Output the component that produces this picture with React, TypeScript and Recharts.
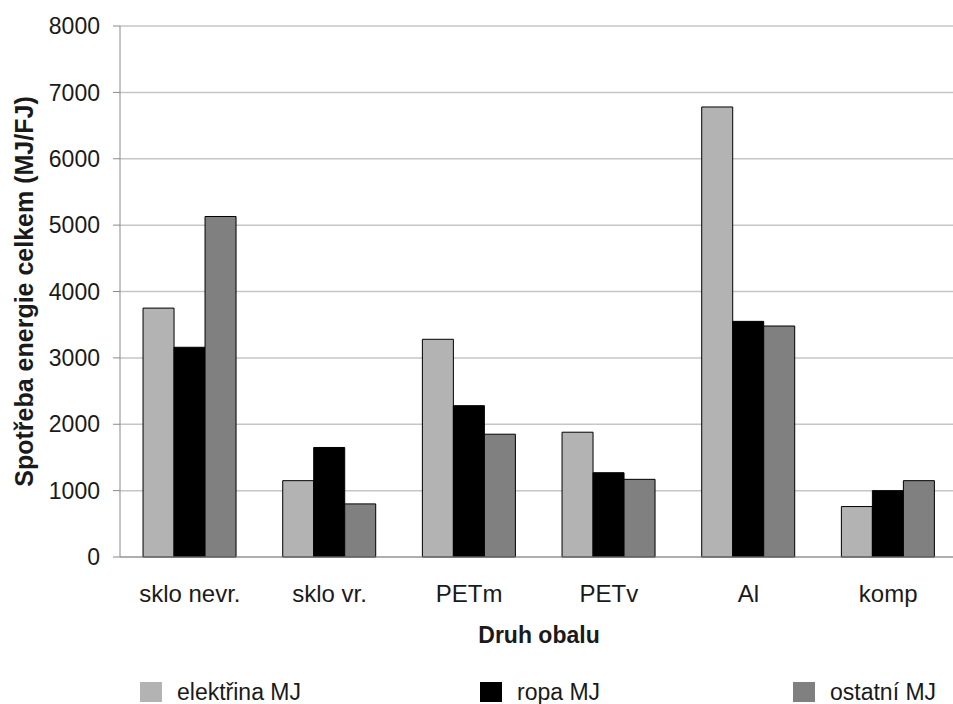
import React from 'react';
import { BarChart, Bar, XAxis, YAxis, CartesianGrid, Legend } from 'recharts';

// Packaging types on the category axis
const categories = ['sklo nevr.', 'sklo vr.', 'PETm', 'PETv', 'Al', 'komp'];

// Energy consumption per packaging type (MJ/FJ)
const elektrina = [3750, 1150, 3280, 1880, 6780, 760];
const ropa = [3160, 1650, 2280, 1270, 3550, 1000];
const ostatni = [5130, 800, 1850, 1170, 3480, 1150];

const yTicks = [0, 1000, 2000, 3000, 4000, 5000, 6000, 7000, 8000];
// Category boundaries, used for the tick marks between groups
const edgeTicks = [0, 1, 2, 3, 4, 5, 6];

const seriesNames = ['elektřina MJ', 'ropa MJ', 'ostatní MJ'];
const seriesColors = ['#b3b3b3', '#000000', '#808080'];

const rows = categories.map((name, i) => ({
  name,
  pos: i + 0.5,
  elektrina: elektrina[i],
  ropa: ropa[i],
  ostatni: ostatni[i],
}));

const FONT = '"Liberation Sans", Arial, Helvetica, sans-serif';
const AXIS_GREY = '#8a8a8a';
const TEXT = '#1a1a1a';

const itemWidths = [340, 313, undefined];

const renderLegend = () => (
  <div
    style={{
      height: 40,
      boxSizing: 'border-box',
      paddingTop: 18,
      paddingLeft: 140,
      display: 'flex',
      fontFamily: FONT,
    }}
  >
    {seriesNames.map((n, i) => (
      <div
        key={n}
        style={{
          display: 'flex',
          alignItems: 'center',
          width: itemWidths[i],
          height: 20,
        }}
      >
        <span
          style={{
            display: 'inline-block',
            width: 22,
            height: 20,
            background: seriesColors[i],
            marginRight: 15,
          }}
        />
        <span style={{ fontSize: 23, color: TEXT, lineHeight: '20px' }}>{n}</span>
      </div>
    ))}
  </div>
);

const renderYLabel = (props: any) => {
  const vb = props.viewBox || {};
  const x = (vb.x || 0) + 24;
  const y = (vb.y || 0) + (vb.height || 0) / 2;
  return (
    <text
      x={x}
      y={y}
      transform={`rotate(-90, ${x}, ${y})`}
      textAnchor="middle"
      dominantBaseline="central"
      fontSize={25}
      fontWeight={700}
      fill={TEXT}
      fontFamily={FONT}
    >
      Spotřeba energie celkem (MJ/FJ)
    </text>
  );
};

export default function App() {
  return (
    <div
      style={{
        position: 'fixed',
        left: 0,
        top: 0,
        width: 953,
        height: 704,
        overflow: 'hidden',
        background: '#ffffff',
        fontFamily: FONT,
      }}
    >
      <BarChart
        width={958}
        height={704}
        data={rows}
        margin={{ top: 26, right: 0, bottom: 0, left: 0 }}
        barCategoryGap="16.5%"
        barGap={0}
        style={{ fontFamily: FONT }}
      >
        <CartesianGrid xAxisId="cat" vertical={false} stroke="#c6c6c6" strokeWidth={1.5} />
        <XAxis
          xAxisId="edges"
          dataKey="pos"
          type="number"
          domain={[0, 6]}
          ticks={edgeTicks}
          allowDataOverflow
          height={0}
          tick={false}
          axisLine={false}
          tickLine={{ stroke: AXIS_GREY }}
          tickSize={8}
        />
        <XAxis
          xAxisId="cat"
          dataKey="name"
          height={107}
          interval={0}
          tickLine={false}
          tickSize={0}
          tickMargin={28}
          axisLine={{ stroke: AXIS_GREY }}
          tick={{ fontSize: 24, fill: TEXT, fontFamily: FONT }}
          label={{
            value: 'Druh obalu',
            position: 'insideBottom',
            offset: 21,
            fontSize: 23,
            fontWeight: 700,
            fill: TEXT,
            fontFamily: FONT,
          }}
        />
        <YAxis
          width={120}
          domain={[0, 8000]}
          ticks={yTicks}
          interval={0}
          tickSize={7}
          tickMargin={13}
          axisLine={{ stroke: AXIS_GREY }}
          tickLine={{ stroke: AXIS_GREY }}
          tick={{ fontSize: 23, fill: TEXT, fontFamily: FONT }}
          label={{ content: renderYLabel }}
        />
        <Legend verticalAlign="bottom" content={renderLegend} />
        <Bar xAxisId="cat" dataKey="elektrina" name={seriesNames[0]} fill={seriesColors[0]} stroke="#000" strokeWidth={1} isAnimationActive={false} />
        <Bar xAxisId="cat" dataKey="ropa" name={seriesNames[1]} fill={seriesColors[1]} stroke="#000" strokeWidth={1} isAnimationActive={false} />
        <Bar xAxisId="cat" dataKey="ostatni" name={seriesNames[2]} fill={seriesColors[2]} stroke="#000" strokeWidth={1} isAnimationActive={false} />
      </BarChart>
    </div>
  );
}
